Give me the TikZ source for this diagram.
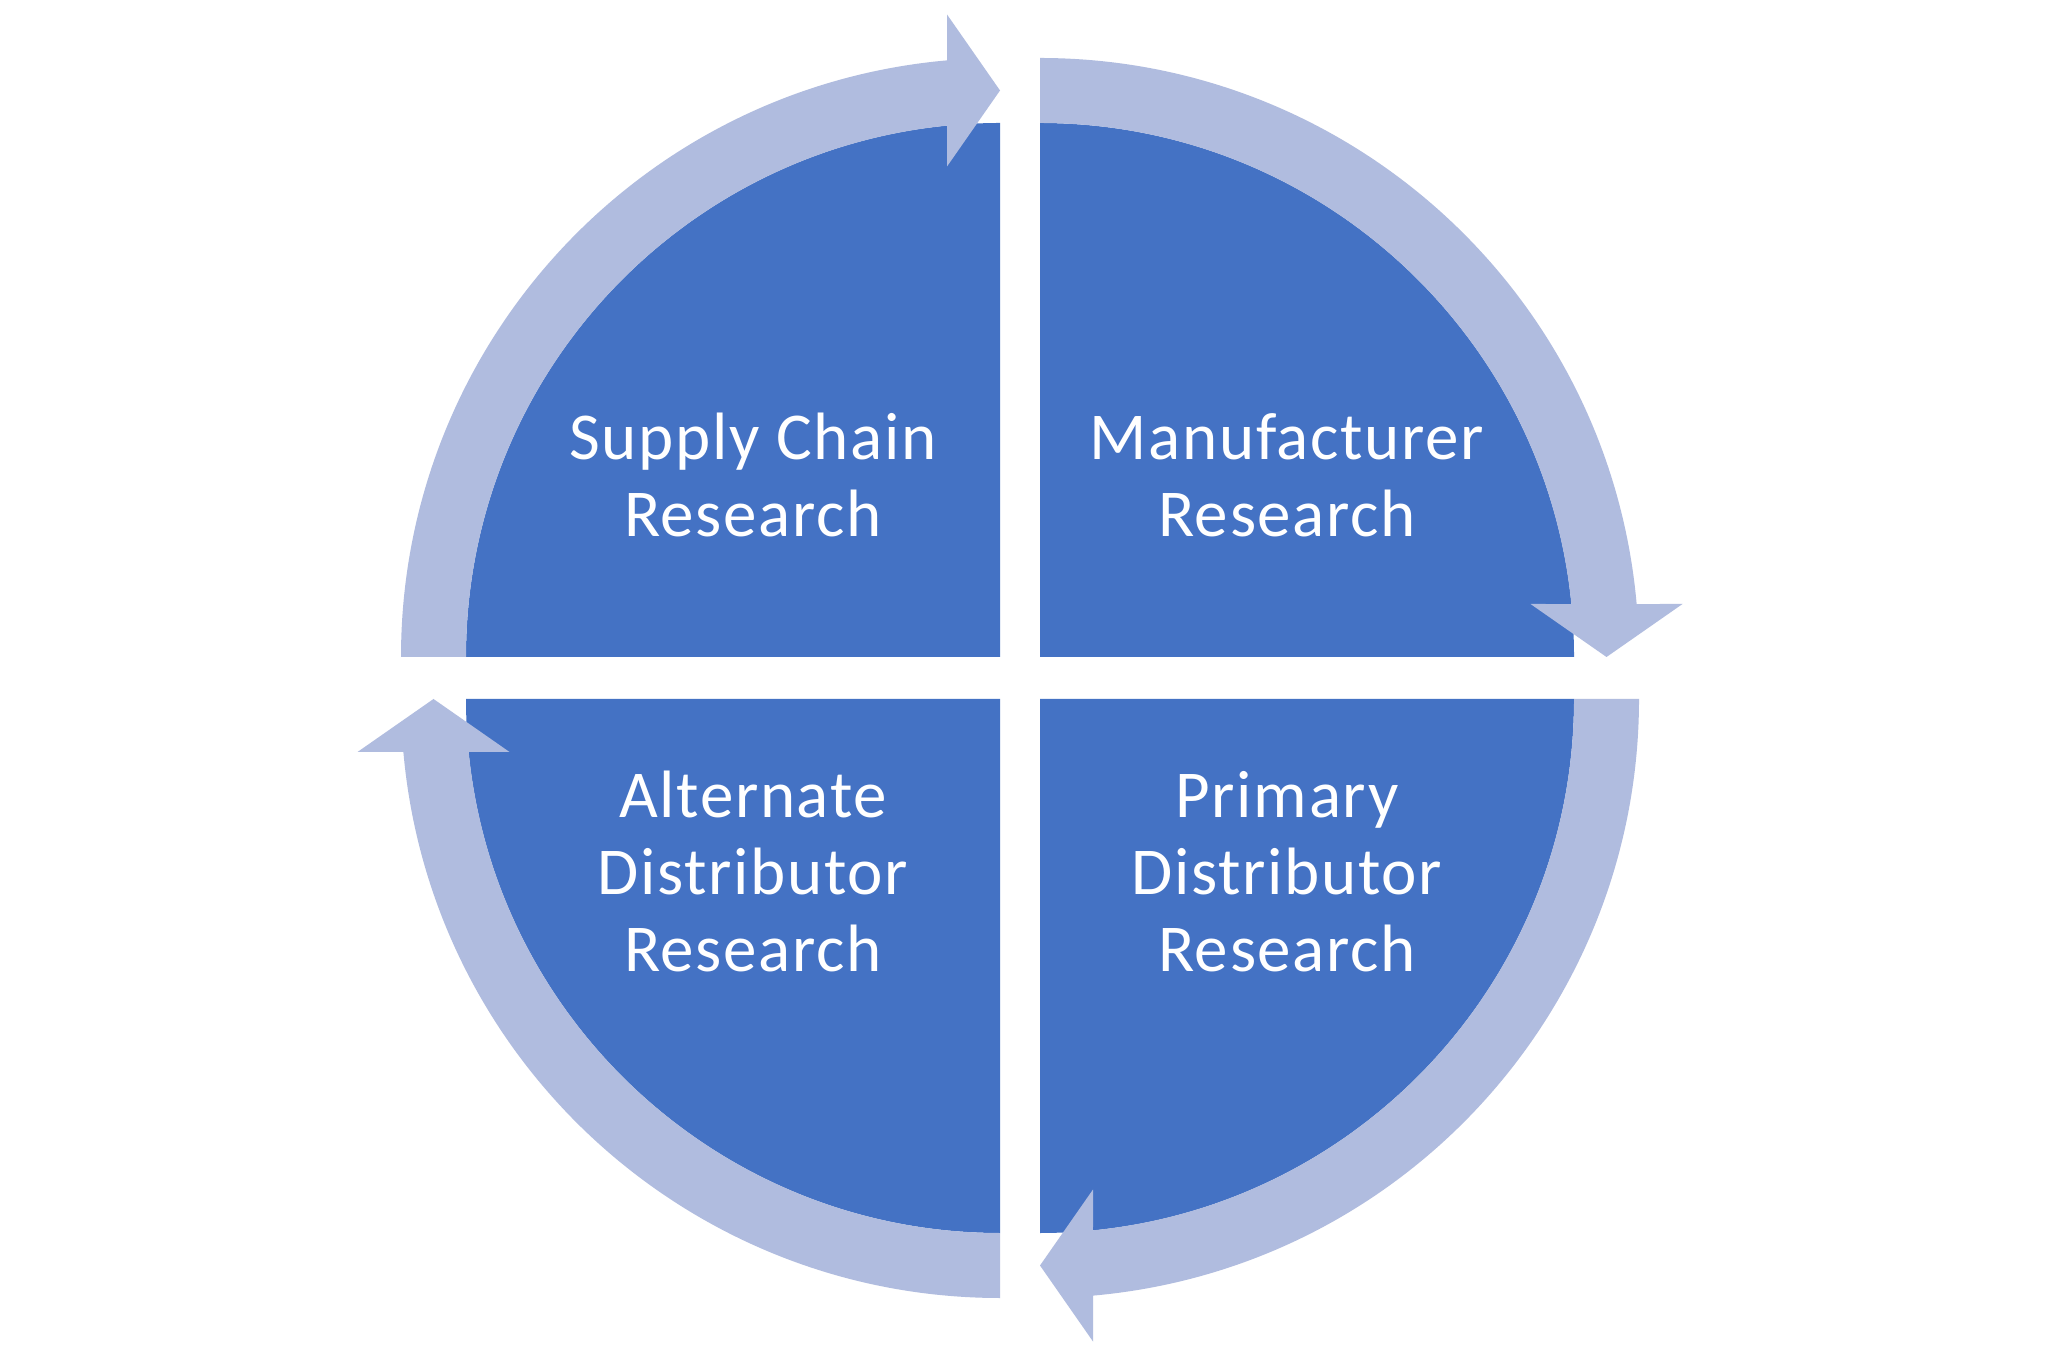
\documentclass[tikz,border=0pt]{standalone}
\usepackage{fontspec}
\setmainfont{Carlito}[LetterSpace=2.5]
\definecolor{darkq}{HTML}{4472C4}
\definecolor{lightb}{HTML}{B0BCDF}
\tikzset{
  quad/.style={fill=darkq},
  band/.style={fill=lightb},
  lbl/.style={text=white, align=center, inner sep=0pt, anchor=base,
    font=\fontsize{33.5}{38.5}\selectfont},
  cyclearrow/.pic={
    \fill[band] (90:599) arc[start angle=90, end angle={asin(53/599)}, radius=599]
      -- (642.5,53) -- (566.5,0) -- (490.5,53)
      -- ({asin(53/534)}:534) arc[start angle={asin(53/534)}, end angle=90, radius=534]
      -- cycle;
  }
}
\begin{document}
\begin{tikzpicture}[x=0.5pt,y=0.5pt]
\fill[white] (0,0) rectangle (2048,1365);
\useasboundingbox (0,0) rectangle (2048,1365);
% dark quadrants
\fill[quad] (1000,708) -- ++(-534,0) arc[start angle=180, end angle=90, radius=534] -- cycle;
\fill[quad] (1040,708) -- ++(0,534) arc[start angle=90, end angle=0, radius=534] -- cycle;
\fill[quad] (1040,666) -- ++(534,0) arc[start angle=0, end angle=-90, radius=534] -- cycle;
\fill[quad] (1000,666) -- ++(0,-534) arc[start angle=-90, end angle=-180, radius=534] -- cycle;
% arrows
\pic at (1040,708) {cyclearrow};
\pic[rotate=90] at (1000,708) {cyclearrow};
\pic[rotate=-90] at (1040,666) {cyclearrow};
\pic[rotate=180] at (1000,666) {cyclearrow};
% labels (anchor base = baseline of last line)
\node[lbl] (sc) at (753,828) {Supply Chain\\Research};
\node[lbl] (mf) at (1287,828) {Manufacturer\\Research};
\node[lbl] (ad) at (753,393) {Alternate\\Distributor\\Research};
\node[lbl] (pd) at (1287,393) {Primary\\Distributor\\Research};
\end{tikzpicture}
\end{document}
